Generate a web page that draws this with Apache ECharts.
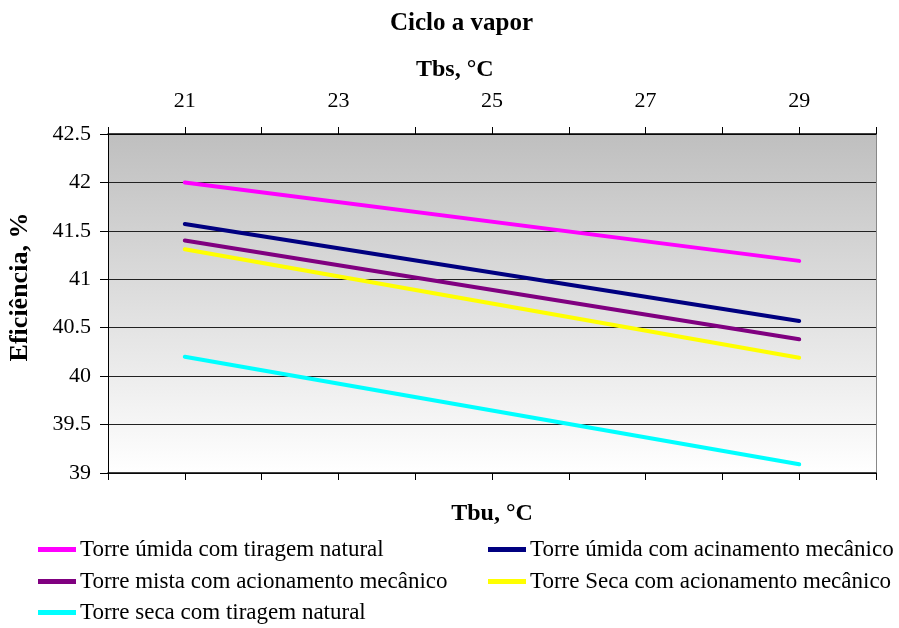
<!DOCTYPE html>
<html><head><meta charset="utf-8">
<script src="https://cdn.jsdelivr.net/npm/echarts@6/dist/echarts.min.js"></script>
<style>html,body{margin:0;padding:0;background:#fff}#c{width:899px;height:628px}</style>
</head><body><div id="c"></div>
<script>
const tbs = [21, 29];
const seriesNames = [
  'Torre úmida com tiragem natural',
  'Torre úmida com acinamento mecânico',
  'Torre mista com acionamento mecânico',
  'Torre Seca com acionamento mecânico',
  'Torre seca com tiragem natural'
];
const umidaNatural = [42.0, 41.19];
const umidaMecanico = [41.57, 40.57];
const mistaMecanico = [41.40, 40.38];
const secaMecanico = [41.31, 40.19];
const secaNatural = [40.20, 39.09];
const colors = ['#ff00ff', '#000080', '#800080', '#ffff00', '#00ffff'];
const values = [umidaNatural, umidaMecanico, mistaMecanico, secaMecanico, secaNatural];

const FONT = '"Liberation Serif", "Times New Roman", serif';
const legendPos = [[38, 538], [488, 538], [38, 570], [488, 570], [38, 601]];
const chart = echarts.init(document.getElementById('c'));
chart.setOption({
  animation: false,
  backgroundColor: '#fff',
  textStyle: { fontFamily: FONT },
  title: [
    { text: 'Ciclo a vapor', left: 385, top: 6, textStyle: { fontFamily: FONT, fontSize: 25, fontWeight: 'bold', color: '#000' } },
    { text: 'Tbs, °C', left: 411, top: 53, textStyle: { fontFamily: FONT, fontSize: 24, fontWeight: 'bold', color: '#000' } }
  ],
  graphic: [{
    type: 'text', x: 20, y: 287, rotation: Math.PI / 2,
    style: { text: 'Eficiência, %', font: 'bold 26px ' + FONT, fill: '#000', textAlign: 'center', textVerticalAlign: 'middle' }
  }],
  grid: {
    left: 108, right: 23, top: 134, bottom: 155,
    show: true, borderWidth: 0,
    backgroundColor: { type: 'linear', x: 0, y: 0, x2: 0, y2: 1, colorStops: [{ offset: 0, color: '#bfbfbf' }, { offset: 1, color: '#ffffff' }] }
  },
  legend: seriesNames.map((n, i) => ({
    data: [n], left: legendPos[i][0], top: legendPos[i][1], itemWidth: 38, itemHeight: 5, itemGap: 0, icon: 'rect',
    padding: 0,
    textStyle: { fontFamily: FONT, fontSize: 23, color: '#000', lineHeight: 23, padding: [0, 0, 0, -1] }
  })),
  xAxis: [
    { type: 'value', position: 'top', min: 20, max: 30, interval: 1,
      axisLine: { show: true, lineStyle: { color: '#000', width: 1.5 } },
      axisTick: { show: true, inside: false, length: 7, lineStyle: { color: '#000' } },
      axisLabel: { show: true, margin: 22, fontFamily: FONT, fontSize: 22, color: '#000',
        formatter: v => (v % 2 === 1 ? String(v) : '') },
      splitLine: { show: false } },
    { type: 'value', position: 'bottom', min: 20, max: 30, interval: 1,
      name: 'Tbu, °C', nameLocation: 'middle', nameGap: 29,
      nameTextStyle: { fontFamily: FONT, fontSize: 24, fontWeight: 'bold', color: '#000', verticalAlign: 'top' },
      axisLine: { show: true, onZero: false, lineStyle: { color: '#000', width: 1.5 } },
      axisTick: { show: true, inside: false, length: 7, lineStyle: { color: '#000' } },
      axisLabel: { show: false },
      splitLine: { show: false } }
  ],
  yAxis: [
    { type: 'value', min: 39, max: 42.5, interval: 0.5,
      axisLine: { show: true, lineStyle: { color: '#000', width: 1 } },
      axisTick: { show: true, inside: false, length: 8, lineStyle: { color: '#000' } },
      axisLabel: { margin: 17, fontFamily: FONT, fontSize: 22, color: '#000' },
      splitLine: { show: true, lineStyle: { color: '#222', width: 1 } } },
    { type: 'value', position: 'right', min: 39, max: 42.5, interval: 0.5,
      axisLine: { show: true, lineStyle: { color: '#888', width: 1 } },
      axisTick: { show: false }, axisLabel: { show: false }, splitLine: { show: false } }
  ],
  series: values.map((vals, i) => ({
    name: seriesNames[i], type: 'line', xAxisIndex: 0, yAxisIndex: 0,
    data: vals.map((v, j) => [tbs[j], v]),
    showSymbol: false, symbol: 'none',
    lineStyle: { color: colors[i], width: 4, cap: 'round' },
    itemStyle: { color: colors[i] }
  }))
});
</script></body></html>
